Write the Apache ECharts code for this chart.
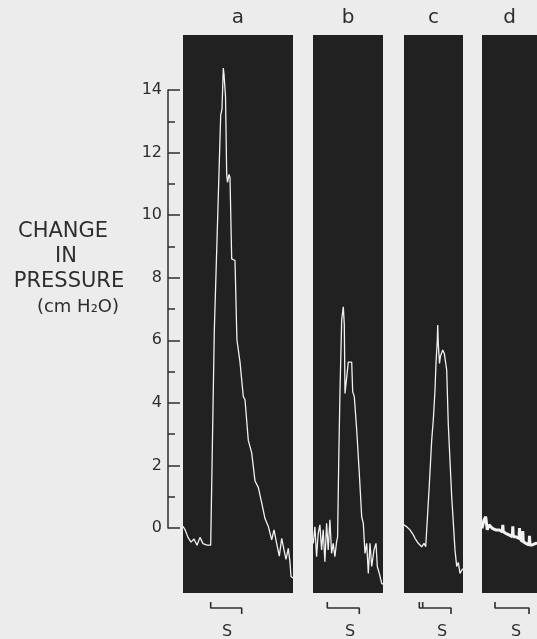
<!DOCTYPE html>
<html>
<head>
<meta charset="utf-8">
<script src="https://cdn.jsdelivr.net/npm/echarts@6/dist/echarts.min.js"></script>
<style>
  html, body { margin: 0; padding: 0; background: #ececec; }
  #chart { width: 537px; height: 639px; }
</style>
</head>
<body>
<div id="chart"></div>
<script>
// ---------------- DATA ----------------
const panelLabels = ['a', 'b', 'c', 'd'];
const yTickLabels = ['0', '2', '4', '6', '8', '10', '12', '14'];
const yTitleLines = ['CHANGE', 'IN', 'PRESSURE', '(cm H₂O)'];
const stimLabel = 'S';

// pressure traces: [time (arbitrary units), change in pressure (cm H2O)]
const traceA = [[0,0.05],[2,-0.05],[5,-0.3],[8,-0.45],[11,-0.35],[14,-0.55],[17,-0.3],[20,-0.5],[24,-0.55],[27.7,-0.55],
  [31.3,6.3],[35.3,10.6],[37.7,13.2],[39,13.4],[40.3,14.7],[41,14.5],[42.5,13.8],[43.7,11.3],[44.5,11.05],[46,11.3],[47,11.2],
  [48.7,8.6],[52,8.55],[53.7,6.3],[54,6.0],[57,5.3],[60.3,4.2],[62,4.1],[65.3,2.8],[68.7,2.4],[72,1.5],[75.3,1.3],[78.7,0.8],
  [82,0.3],[85.3,0.05],[88.7,-0.38],[91,-0.06],[93.7,-0.5],[96.3,-0.9],[98.7,-0.33],[101,-0.7],[103,-1.0],[105.3,-0.65],
  [107,-1.1],[108,-1.55],[110,-1.6]];
const traceB = [[0.3,-0.49],[1.9,0.04],[3.6,-0.92],[5.2,-0.17],[6.9,0.1],[8.6,-0.7],[10.2,-0.06],[11.9,-1.08],[13.6,0.15],
  [15.2,-0.7],[16.9,0.26],[18.6,-0.81],[20.2,-0.49],[21.9,-0.92],[23.6,-0.44],[24.6,-0.28],[25.8,2.3],[27,4.4],[28.7,6.65],
  [30.3,7.07],[31.3,6.5],[32,4.3],[33.7,4.3],[35.3,5.3],[38.7,5.3],[39.7,4.35],[41.3,4.2],[43.7,3.13],[46.3,1.75],[48.7,0.36],
  [50.3,0.15],[52,-0.81],[53.7,-0.49],[55.3,-1.45],[57,-0.49],[58.7,-1.23],[61,-0.7],[63,-0.49],[64.3,-1.23],[66.3,-1.45],
  [68.7,-1.77],[70,-1.8]];
const traceC = [[0,0.1],[2.7,0.04],[6,-0.06],[9.3,-0.22],[11,-0.33],[12.7,-0.28],[14.3,-0.49],[16,-0.44],[17.7,-0.6],[20,-0.49],
  [21.7,-0.6],[22.7,-0.62],[25,1.2],[27.7,2.81],[29.3,3.45],[31,4.41],[32,5.27],[33.3,6.0],[33.7,6.49],[34.3,5.9],[35.5,5.26],
  [36.5,5.5],[38.7,5.69],[40.3,5.58],[42.7,5.05],[44.3,3.3],[47.7,1.0],[51,-0.7],[52.7,-1.23],[54.3,-1.1],[56,-1.45],
  [57.7,-1.35],[59,-1.3]];
const traceD = [[0,-0.01],[2,0.26],[3.7,0.36],[5.3,-0.06],[7,0.1],[10.3,-0.01],[13.7,-0.06],[17,-0.06],[20.3,-0.12],[20.8,0.1],
  [21.3,-0.12],[23.7,-0.17],[27,-0.22],[30.3,-0.28],[30.8,0.05],[31.3,-0.28],[33.7,-0.28],[37,-0.33],[37.5,0.0],[38,-0.33],
  [40.3,-0.44],[40.8,-0.1],[41.3,-0.44],[43.7,-0.49],[47,-0.54],[47.5,-0.25],[48,-0.54],[50.3,-0.54],[53.7,-0.49],[55,-0.5]];
const traces = [traceA, traceB, traceC, traceD];

// stimulus marks (time units): onset(s) and offset per panel
const stimOnsets = [[27.7], [14.3], [15.3, 18.7], [13]];
const stimOffsets = [58.7, 46.3, 47, 47];
// time span shown in each panel
const panelSpans = [110, 70, 59, 55];

// ---------------- LAYOUT / STYLE ----------------
const AXIS_X = 168, Y0_PX = 528, Y14_PX = 90;
const PANEL_TOP = 35, PANEL_BOTTOM = 593;
const panelLefts = [183, 313, 404, 482];
const panelWidths = [110, 70, 59, 55];
const STIM_TOP = 602, STIM_H = 12;
const INK = '#2e2e2e';
const PANEL_BG = '#212121';
const TRACE = '#f1f1f1';
const FONT = '"DejaVu Sans", sans-serif';

const pxPerUnit = (Y0_PX - Y14_PX) / 14;
const panelYMin = -(PANEL_BOTTOM - Y0_PX) / pxPerUnit;
const panelYMax = 14 + (Y14_PX - PANEL_TOP) / pxPerUnit;

const grids = [], xAxes = [], yAxes = [], series = [];

// grid 0: the pressure scale
grids.push({ left: AXIS_X, top: Y14_PX, width: 10, height: Y0_PX - Y14_PX, show: false, outerBoundsMode: 'none', containLabel: false });
xAxes.push({ gridIndex: 0, type: 'value', show: false, min: 0, max: 1 });
yAxes.push({
  gridIndex: 0, type: 'value', min: 0, max: 14, interval: 2, position: 'left',
  axisLine: { show: true, lineStyle: { color: INK, width: 1.5 } },
  axisTick: { show: true, inside: true, length: 12, lineStyle: { color: INK, width: 1.5 } },
  minorTick: { show: true, splitNumber: 2, length: 7, lineStyle: { color: INK, width: 1.5 } },
  splitLine: { show: false }, minorSplitLine: { show: false },
  axisLabel: { color: INK, fontSize: 16, fontFamily: FONT, margin: 6,
    formatter: (v) => yTickLabels[Math.round(v / 2)] }
});

traces.forEach((tr, i) => {
  // panel grid
  const gi = grids.length;
  grids.push({ left: panelLefts[i], top: PANEL_TOP, width: panelWidths[i], height: PANEL_BOTTOM - PANEL_TOP,
    show: true, backgroundColor: PANEL_BG, borderWidth: 0, outerBoundsMode: 'none', containLabel: false });
  xAxes.push({ gridIndex: gi, type: 'value', min: 0, max: panelSpans[i], position: 'top',
    axisLine: { show: false }, axisTick: { show: false }, axisLabel: { show: false }, splitLine: { show: false },
    name: panelLabels[i], nameLocation: 'middle', nameGap: 7,
    nameTextStyle: { color: INK, fontSize: 20, fontFamily: FONT } });
  yAxes.push({ gridIndex: gi, type: 'value', min: panelYMin, max: panelYMax, show: false });
  series.push({ type: 'line', xAxisIndex: gi, yAxisIndex: gi, data: tr, showSymbol: false, symbol: 'none',
    lineStyle: { color: TRACE, width: i === 3 ? 3 : 1.3 }, silent: true, animation: false });

  // stimulus marker grid
  const si = grids.length;
  grids.push({ left: panelLefts[i], top: STIM_TOP, width: panelWidths[i], height: STIM_H, show: false, outerBoundsMode: 'none', containLabel: false });
  xAxes.push({ gridIndex: si, type: 'value', min: 0, max: panelSpans[i], show: false });
  yAxes.push({ gridIndex: si, type: 'value', min: 0, max: 2, show: false });
  const ons = stimOnsets[i];
  const pts = [[ons[0], 2], [ons[0], 1]];
  for (let k = 1; k < ons.length; k++) pts.push([ons[k], 1], [ons[k], 2], [ons[k], 1]);
  pts.push([stimOffsets[i], 1], [stimOffsets[i], 0]);
  series.push({ type: 'line', xAxisIndex: si, yAxisIndex: si, data: pts, showSymbol: false, symbol: 'none',
    clip: false, lineStyle: { color: INK, width: 1.6 }, silent: true, animation: false });
});

// text annotations
const titlePos = [[63, 232], [66, 257], [69, 282], [78, 307]];
const titleSizes = [21, 21, 21, 18];
const sPos = [[227, 632], [350, 632], [442, 632], [516, 632]];
const graphic = [];
yTitleLines.forEach((t, i) => graphic.push({ type: 'text', silent: true,
  style: { text: t, x: titlePos[i][0], y: titlePos[i][1], textAlign: 'center', textVerticalAlign: 'middle',
    font: titleSizes[i] + 'px ' + FONT, fill: INK } }));
sPos.forEach((p) => graphic.push({ type: 'text', silent: true,
  style: { text: stimLabel, x: p[0], y: p[1], textAlign: 'center', textVerticalAlign: 'middle',
    font: '16px ' + FONT, fill: INK } }));

const chart = echarts.init(document.getElementById('chart'), null, { renderer: 'canvas' });
chart.setOption({
  backgroundColor: '#ececec',
  animation: false,
  grid: grids, xAxis: xAxes, yAxis: yAxes, series: series, graphic: graphic
});
</script>
</body>
</html>
